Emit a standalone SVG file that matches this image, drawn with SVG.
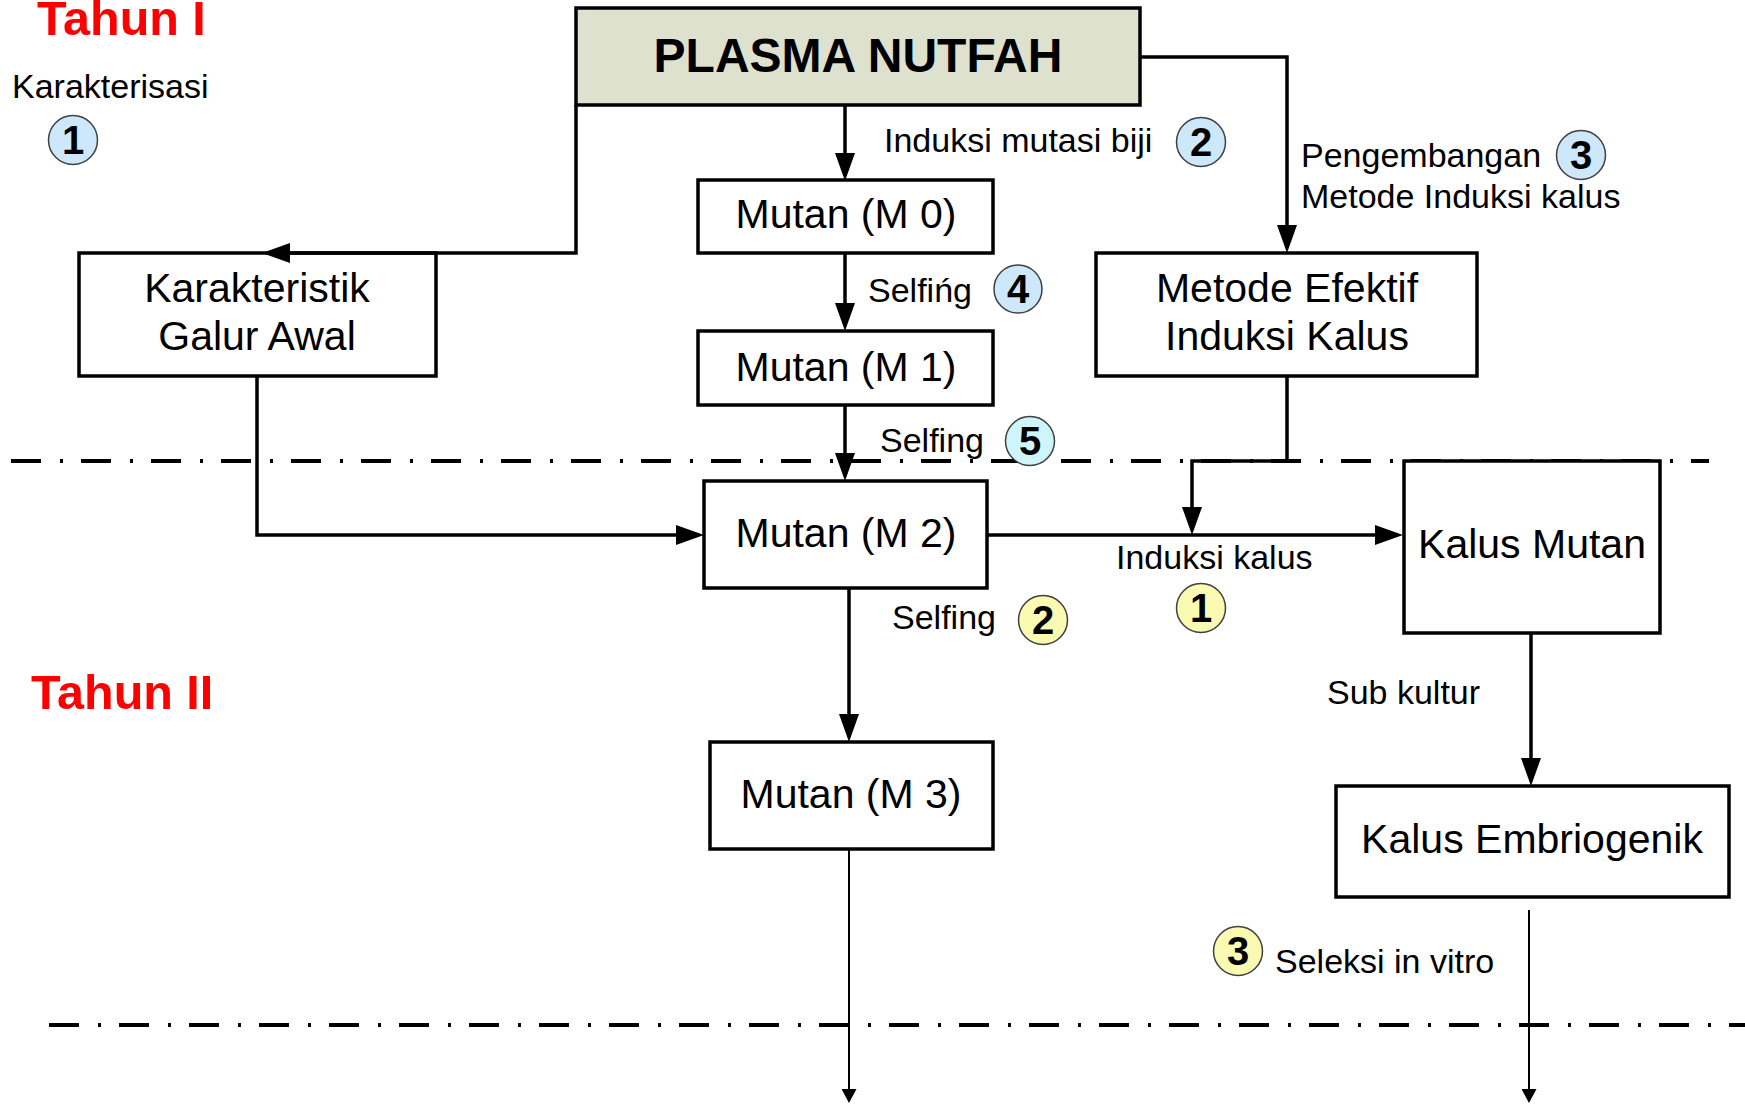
<svg xmlns="http://www.w3.org/2000/svg" width="1745" height="1104" viewBox="0 0 1745 1104">
<defs>
<style>
.box{fill:#fff;stroke:#000;stroke-width:3.5}
.bt{font-family:"Liberation Sans",Arial,sans-serif;font-size:41px;text-anchor:middle;fill:#000}
.lb{font-family:"Liberation Sans",Arial,sans-serif;font-size:34px;fill:#000}
.yr{font-family:"Liberation Sans",Arial,sans-serif;font-size:48.5px;font-weight:bold;fill:#ff0000}
.num{font-family:"Liberation Sans",Arial,sans-serif;font-size:40px;font-weight:bold;text-anchor:middle;fill:#000}
.cb{fill:#cde8fa;stroke:#404040;stroke-width:1.5}
.cc{fill:#cdf5fa;stroke:#404040;stroke-width:1.5}
.cy{fill:#fafab2;stroke:#404040;stroke-width:1.5}
.con{fill:none;stroke:#000;stroke-width:3.5}
.thin{fill:none;stroke:#000;stroke-width:2}
.dd{fill:none;stroke:#000;stroke-width:4;stroke-dasharray:30 19 3 18}
</style>
<marker id="arr" viewBox="0 0 28 20" refX="23" refY="10" markerWidth="28" markerHeight="20" markerUnits="userSpaceOnUse" orient="auto">
<path d="M0,0 L28,10 L0,20 Z" fill="#000"/>
</marker>
<marker id="arrs" viewBox="0 0 14 15" refX="12" refY="7.5" markerWidth="14" markerHeight="15" markerUnits="userSpaceOnUse" orient="auto">
<path d="M0,0 L14,7.5 L0,15 Z" fill="#000"/>
</marker>
</defs>
<rect width="1745" height="1104" fill="#fff"/>

<g id="separators">
<line class="dd" x1="11" y1="461" x2="1709" y2="461"/>
<line class="dd" x1="49" y1="1025" x2="1745" y2="1025"/>
</g>

<g id="plasma-nutfah">
<rect x="576" y="8" width="564" height="97" fill="#dee1cd" stroke="#000" stroke-width="3.5"/>
<text x="858" y="72" font-family="Liberation Sans, Arial, sans-serif" font-size="48" font-weight="bold" text-anchor="middle">PLASMA NUTFAH</text>
</g>
<g id="karakteristik">
<rect class="box" x="79" y="253" width="357" height="123"/>
<text class="bt" x="257" y="302">Karakteristik</text>
<text class="bt" x="257" y="350">Galur Awal</text>
</g>
<g id="mutan-m0">
<rect class="box" x="698" y="180" width="295" height="73"/>
<text class="bt" x="846" y="228">Mutan (M 0)</text>
</g>
<g id="mutan-m1">
<rect class="box" x="698" y="331" width="295" height="74"/>
<text class="bt" x="846" y="381">Mutan (M 1)</text>
</g>
<g id="metode-efektif">
<rect class="box" x="1096" y="253" width="381" height="123"/>
<text class="bt" x="1287" y="302">Metode Efektif</text>
<text class="bt" x="1287" y="350">Induksi Kalus</text>
</g>
<g id="mutan-m2">
<rect class="box" x="704" y="481" width="283" height="107"/>
<text class="bt" x="846" y="547">Mutan (M 2)</text>
</g>
<g id="kalus-mutan">
<rect class="box" x="1404" y="461" width="256" height="172"/>
<text class="bt" x="1532" y="558">Kalus Mutan</text>
</g>
<g id="mutan-m3">
<rect class="box" x="710" y="742" width="283" height="107"/>
<text class="bt" x="851" y="808">Mutan (M 3)</text>
</g>
<g id="kalus-embriogenik">
<rect class="box" x="1336" y="786" width="393" height="111"/>
<text class="bt" x="1532" y="853">Kalus Embriogenik</text>
</g>

<g id="connectors">
<path class="con" d="M576,105 V253 H267" marker-end="url(#arr)"/>
<path class="con" d="M845,105 V176" marker-end="url(#arr)"/>
<path class="con" d="M1140,57 H1287 V248" marker-end="url(#arr)"/>
<path class="con" d="M845,253 V326" marker-end="url(#arr)"/>
<path class="con" d="M845,405 V476" marker-end="url(#arr)"/>
<path class="con" d="M257,376 V535 H699" marker-end="url(#arr)"/>
<path class="con" d="M987,535 H1398" marker-end="url(#arr)"/>
<path class="con" d="M1287,376 V461 H1192 V530" marker-end="url(#arr)"/>
<path class="con" d="M849,588 V737" marker-end="url(#arr)"/>
<path class="con" d="M1531,633 V781" marker-end="url(#arr)"/>
<path class="thin" d="M849,849 V1101" marker-end="url(#arrs)"/>
<path class="thin" d="M1529,910 V1101" marker-end="url(#arrs)"/>
</g>

<g id="labels">
<text class="yr" x="37" y="35">Tahun I</text>
<text class="yr" x="31" y="709">Tahun II</text>
<text class="lb" x="12" y="98">Karakterisasi</text>
<text class="lb" x="884" y="152">Induksi mutasi biji</text>
<text class="lb" x="1301" y="167">Pengembangan</text>
<text class="lb" x="1301" y="208">Metode Induksi kalus</text>
<text class="lb" x="868" y="302">Selfińg</text>
<text class="lb" x="880" y="452">Selfing</text>
<text class="lb" x="1116" y="569">Induksi kalus</text>
<text class="lb" x="892" y="629">Selfing</text>
<text class="lb" x="1327" y="704">Sub kultur</text>
<text class="lb" x="1275" y="973">Seleksi in vitro</text>
</g>

<g id="badges">
<g id="badge-b1"><circle class="cb" cx="73" cy="140" r="24.5"/><text class="num" x="73" y="154">1</text></g>
<g id="badge-b2"><circle class="cb" cx="1201" cy="142" r="24.5"/><text class="num" x="1201" y="156">2</text></g>
<g id="badge-b3"><circle class="cb" cx="1581" cy="155" r="24.5"/><text class="num" x="1581" y="169">3</text></g>
<g id="badge-b4"><circle class="cb" cx="1018" cy="289" r="24"/><text class="num" x="1018" y="303">4</text></g>
<g id="badge-b5"><circle class="cc" cx="1030" cy="441" r="24.5"/><text class="num" x="1030" y="455">5</text></g>
<g id="badge-y1"><circle class="cy" cx="1201" cy="608" r="24.5"/><text class="num" x="1201" y="622">1</text></g>
<g id="badge-y2"><circle class="cy" cx="1043" cy="620" r="24.5"/><text class="num" x="1043" y="634">2</text></g>
<g id="badge-y3"><circle class="cy" cx="1238" cy="951" r="24.5"/><text class="num" x="1238" y="965">3</text></g>
</g>
</svg>
